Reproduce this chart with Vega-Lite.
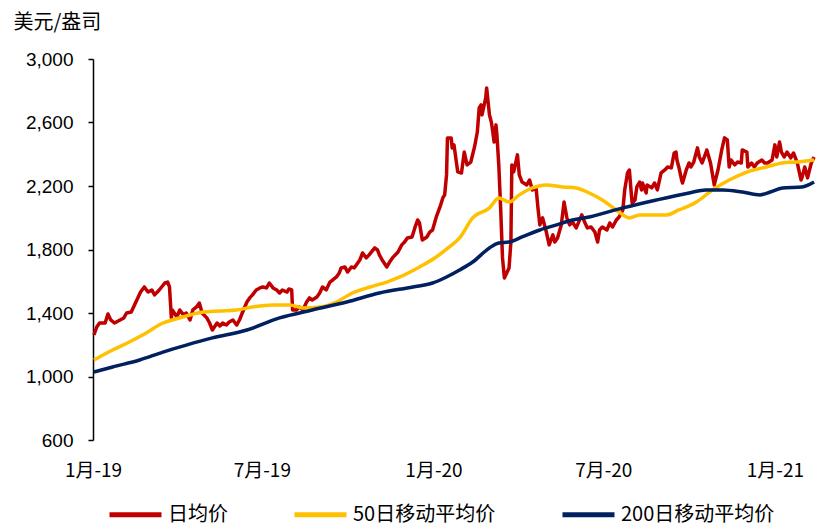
{
  "$schema": "https://vega.github.io/schema/vega-lite/v6.json",
  "width": 722,
  "height": 381,
  "autosize": {"type": "none"},
  "padding": {"left": 93, "top": 59, "right": 2, "bottom": 87},
  "background": "white",
  "config": {"view": {"stroke": null}, "font": "Liberation Sans"},
  "data": {"values": [
      {"s":"日均价","d":"2019-01-02","v":1262},{"s":"日均价","d":"2019-01-05","v":1312},{"s":"日均价","d":"2019-01-08","v":1337},{"s":"日均价","d":"2019-01-14","v":1337},{"s":"日均价","d":"2019-01-17","v":1394},{"s":"日均价","d":"2019-01-20","v":1356},{"s":"日均价","d":"2019-01-24","v":1337},{"s":"日均价","d":"2019-01-30","v":1356},{"s":"日均价","d":"2019-02-03","v":1369},{"s":"日均价","d":"2019-02-06","v":1400},{"s":"日均价","d":"2019-02-11","v":1406},{"s":"日均价","d":"2019-02-17","v":1482},{"s":"日均价","d":"2019-02-21","v":1532},{"s":"日均价","d":"2019-02-25","v":1564},{"s":"日均价","d":"2019-03-01","v":1532},{"s":"日均价","d":"2019-03-05","v":1545},{"s":"日均价","d":"2019-03-08","v":1514},{"s":"日均价","d":"2019-03-13","v":1545},{"s":"日均价","d":"2019-03-19","v":1589},{"s":"日均价","d":"2019-03-22","v":1595},{"s":"日均价","d":"2019-03-24","v":1564},{"s":"日均价","d":"2019-03-26","v":1369},{"s":"日均价","d":"2019-03-27","v":1419},{"s":"日均价","d":"2019-04-01","v":1375},{"s":"日均价","d":"2019-04-04","v":1419},{"s":"日均价","d":"2019-04-08","v":1388},{"s":"日均价","d":"2019-04-11","v":1400},{"s":"日均价","d":"2019-04-15","v":1356},{"s":"日均价","d":"2019-04-18","v":1419},{"s":"日均价","d":"2019-04-22","v":1438},{"s":"日均价","d":"2019-04-25","v":1463},{"s":"日均价","d":"2019-04-28","v":1400},{"s":"日均价","d":"2019-05-03","v":1369},{"s":"日均价","d":"2019-05-06","v":1337},{"s":"日均价","d":"2019-05-09","v":1293},{"s":"日均价","d":"2019-05-14","v":1337},{"s":"日均价","d":"2019-05-17","v":1318},{"s":"日均价","d":"2019-05-20","v":1337},{"s":"日均价","d":"2019-05-24","v":1324},{"s":"日均价","d":"2019-05-27","v":1343},{"s":"日均价","d":"2019-05-31","v":1356},{"s":"日均价","d":"2019-06-04","v":1324},{"s":"日均价","d":"2019-06-07","v":1356},{"s":"日均价","d":"2019-06-10","v":1400},{"s":"日均价","d":"2019-06-15","v":1469},{"s":"日均价","d":"2019-06-18","v":1495},{"s":"日均价","d":"2019-06-21","v":1514},{"s":"日均价","d":"2019-06-25","v":1545},{"s":"日均价","d":"2019-06-29","v":1558},{"s":"日均价","d":"2019-07-02","v":1564},{"s":"日均价","d":"2019-07-06","v":1558},{"s":"日均价","d":"2019-07-09","v":1589},{"s":"日均价","d":"2019-07-13","v":1558},{"s":"日均价","d":"2019-07-17","v":1545},{"s":"日均价","d":"2019-07-20","v":1526},{"s":"日均价","d":"2019-07-23","v":1545},{"s":"日均价","d":"2019-07-28","v":1532},{"s":"日均价","d":"2019-07-30","v":1551},{"s":"日均价","d":"2019-08-02","v":1545},{"s":"日均价","d":"2019-08-03","v":1419},{"s":"日均价","d":"2019-08-07","v":1419},{"s":"日均价","d":"2019-08-10","v":1438},{"s":"日均价","d":"2019-08-14","v":1419},{"s":"日均价","d":"2019-08-18","v":1469},{"s":"日均价","d":"2019-08-21","v":1495},{"s":"日均价","d":"2019-08-24","v":1482},{"s":"日均价","d":"2019-08-29","v":1501},{"s":"日均价","d":"2019-09-01","v":1526},{"s":"日均价","d":"2019-09-04","v":1564},{"s":"日均价","d":"2019-09-08","v":1545},{"s":"日均价","d":"2019-09-12","v":1595},{"s":"日均价","d":"2019-09-15","v":1608},{"s":"日均价","d":"2019-09-19","v":1627},{"s":"日均价","d":"2019-09-22","v":1652},{"s":"日均价","d":"2019-09-24","v":1684},{"s":"日均价","d":"2019-09-28","v":1690},{"s":"日均价","d":"2019-10-01","v":1658},{"s":"日均价","d":"2019-10-05","v":1690},{"s":"日均价","d":"2019-10-08","v":1684},{"s":"日均价","d":"2019-10-14","v":1734},{"s":"日均价","d":"2019-10-17","v":1778},{"s":"日均价","d":"2019-10-21","v":1747},{"s":"日均价","d":"2019-10-24","v":1766},{"s":"日均价","d":"2019-10-30","v":1810},{"s":"日均价","d":"2019-11-02","v":1797},{"s":"日均价","d":"2019-11-04","v":1766},{"s":"日均价","d":"2019-11-07","v":1734},{"s":"日均价","d":"2019-11-12","v":1690},{"s":"日均价","d":"2019-11-15","v":1721},{"s":"日均价","d":"2019-11-18","v":1747},{"s":"日均价","d":"2019-11-24","v":1784},{"s":"日均价","d":"2019-11-28","v":1829},{"s":"日均价","d":"2019-12-01","v":1847},{"s":"日均价","d":"2019-12-04","v":1873},{"s":"日均价","d":"2019-12-09","v":1879},{"s":"日均价","d":"2019-12-12","v":1936},{"s":"日均价","d":"2019-12-15","v":1986},{"s":"日均价","d":"2019-12-17","v":1967},{"s":"日均价","d":"2019-12-20","v":1860},{"s":"日均价","d":"2019-12-25","v":1879},{"s":"日均价","d":"2019-12-28","v":1910},{"s":"日均价","d":"2019-12-31","v":1923},{"s":"日均价","d":"2020-01-04","v":2005},{"s":"日均价","d":"2020-01-08","v":2068},{"s":"日均价","d":"2020-01-11","v":2125},{"s":"日均价","d":"2020-01-13","v":2144},{"s":"日均价","d":"2020-01-15","v":2270},{"s":"日均价","d":"2020-01-16","v":2503},{"s":"日均价","d":"2020-01-20","v":2503},{"s":"日均价","d":"2020-01-21","v":2440},{"s":"日均价","d":"2020-01-23","v":2459},{"s":"日均价","d":"2020-01-27","v":2289},{"s":"日均价","d":"2020-01-31","v":2282},{"s":"日均价","d":"2020-02-03","v":2414},{"s":"日均价","d":"2020-02-06","v":2333},{"s":"日均价","d":"2020-02-10","v":2351},{"s":"日均价","d":"2020-02-14","v":2446},{"s":"日均价","d":"2020-02-17","v":2540},{"s":"日均价","d":"2020-02-19","v":2692},{"s":"日均价","d":"2020-02-21","v":2711},{"s":"日均价","d":"2020-02-22","v":2648},{"s":"日均价","d":"2020-02-26","v":2755},{"s":"日均价","d":"2020-02-27","v":2818},{"s":"日均价","d":"2020-03-01","v":2648},{"s":"日均价","d":"2020-03-03","v":2603},{"s":"日均价","d":"2020-03-04","v":2566},{"s":"日均价","d":"2020-03-06","v":2477},{"s":"日均价","d":"2020-03-08","v":2585},{"s":"日均价","d":"2020-03-09","v":2522},{"s":"日均价","d":"2020-03-11","v":2333},{"s":"日均价","d":"2020-03-13","v":2062},{"s":"日均价","d":"2020-03-15","v":1747},{"s":"日均价","d":"2020-03-17","v":1621},{"s":"日均价","d":"2020-03-20","v":1658},{"s":"日均价","d":"2020-03-22","v":1684},{"s":"日均价","d":"2020-03-24","v":1847},{"s":"日均价","d":"2020-03-25","v":2333},{"s":"日均价","d":"2020-03-27","v":2289},{"s":"日均价","d":"2020-03-31","v":2396},{"s":"日均价","d":"2020-04-02","v":2270},{"s":"日均价","d":"2020-04-05","v":2225},{"s":"日均价","d":"2020-04-10","v":2207},{"s":"日均价","d":"2020-04-13","v":2238},{"s":"日均价","d":"2020-04-16","v":2175},{"s":"日均价","d":"2020-04-20","v":2188},{"s":"日均价","d":"2020-04-22","v":2062},{"s":"日均价","d":"2020-04-24","v":1955},{"s":"日均价","d":"2020-04-27","v":1999},{"s":"日均价","d":"2020-05-01","v":1910},{"s":"日均价","d":"2020-05-04","v":1829},{"s":"日均价","d":"2020-05-08","v":1892},{"s":"日均价","d":"2020-05-10","v":1847},{"s":"日均价","d":"2020-05-13","v":1873},{"s":"日均价","d":"2020-05-17","v":1955},{"s":"日均价","d":"2020-05-20","v":2099},{"s":"日均价","d":"2020-05-23","v":1999},{"s":"日均价","d":"2020-05-26","v":1955},{"s":"日均价","d":"2020-05-29","v":1973},{"s":"日均价","d":"2020-06-02","v":1936},{"s":"日均价","d":"2020-06-08","v":2018},{"s":"日均价","d":"2020-06-11","v":1973},{"s":"日均价","d":"2020-06-14","v":1936},{"s":"日均价","d":"2020-06-18","v":1942},{"s":"日均价","d":"2020-06-22","v":1910},{"s":"日均价","d":"2020-06-25","v":1847},{"s":"日均价","d":"2020-06-27","v":1923},{"s":"日均价","d":"2020-06-30","v":1942},{"s":"日均价","d":"2020-07-05","v":1923},{"s":"日均价","d":"2020-07-08","v":1967},{"s":"日均价","d":"2020-07-11","v":1942},{"s":"日均价","d":"2020-07-15","v":1986},{"s":"日均价","d":"2020-07-18","v":2005},{"s":"日均价","d":"2020-07-22","v":2049},{"s":"日均价","d":"2020-07-24","v":2175},{"s":"日均价","d":"2020-07-27","v":2282},{"s":"日均价","d":"2020-07-29","v":2301},{"s":"日均价","d":"2020-07-31","v":2156},{"s":"日均价","d":"2020-08-01","v":2093},{"s":"日均价","d":"2020-08-04","v":2112},{"s":"日均价","d":"2020-08-06","v":2194},{"s":"日均价","d":"2020-08-09","v":2225},{"s":"日均价","d":"2020-08-11","v":2175},{"s":"日均价","d":"2020-08-12","v":2219},{"s":"日均价","d":"2020-08-16","v":2156},{"s":"日均价","d":"2020-08-17","v":2207},{"s":"日均价","d":"2020-08-22","v":2188},{"s":"日均价","d":"2020-08-25","v":2219},{"s":"日均价","d":"2020-08-28","v":2175},{"s":"日均价","d":"2020-09-01","v":2282},{"s":"日均价","d":"2020-09-05","v":2301},{"s":"日均价","d":"2020-09-08","v":2320},{"s":"日均价","d":"2020-09-12","v":2314},{"s":"日均价","d":"2020-09-15","v":2408},{"s":"日均价","d":"2020-09-17","v":2414},{"s":"日均价","d":"2020-09-18","v":2364},{"s":"日均价","d":"2020-09-20","v":2320},{"s":"日均价","d":"2020-09-23","v":2238},{"s":"日均价","d":"2020-09-24","v":2219},{"s":"日均价","d":"2020-09-28","v":2301},{"s":"日均价","d":"2020-10-01","v":2345},{"s":"日均价","d":"2020-10-03","v":2320},{"s":"日均价","d":"2020-10-06","v":2351},{"s":"日均价","d":"2020-10-10","v":2440},{"s":"日均价","d":"2020-10-12","v":2383},{"s":"日均价","d":"2020-10-15","v":2345},{"s":"日均价","d":"2020-10-19","v":2408},{"s":"日均价","d":"2020-10-20","v":2427},{"s":"日均价","d":"2020-10-24","v":2345},{"s":"日均价","d":"2020-10-28","v":2207},{"s":"日均价","d":"2020-11-01","v":2301},{"s":"日均价","d":"2020-11-05","v":2427},{"s":"日均价","d":"2020-11-08","v":2503},{"s":"日均价","d":"2020-11-11","v":2490},{"s":"日均价","d":"2020-11-13","v":2320},{"s":"日均价","d":"2020-11-15","v":2364},{"s":"日均价","d":"2020-11-19","v":2333},{"s":"日均价","d":"2020-11-22","v":2351},{"s":"日均价","d":"2020-11-26","v":2345},{"s":"日均价","d":"2020-11-27","v":2427},{"s":"日均价","d":"2020-12-02","v":2414},{"s":"日均价","d":"2020-12-03","v":2320},{"s":"日均价","d":"2020-12-07","v":2345},{"s":"日均价","d":"2020-12-10","v":2320},{"s":"日均价","d":"2020-12-13","v":2345},{"s":"日均价","d":"2020-12-18","v":2364},{"s":"日均价","d":"2020-12-21","v":2345},{"s":"日均价","d":"2020-12-24","v":2345},{"s":"日均价","d":"2020-12-29","v":2364},{"s":"日均价","d":"2021-01-01","v":2459},{"s":"日均价","d":"2021-01-03","v":2383},{"s":"日均价","d":"2021-01-06","v":2477},{"s":"日均价","d":"2021-01-08","v":2414},{"s":"日均价","d":"2021-01-11","v":2383},{"s":"日均价","d":"2021-01-14","v":2414},{"s":"日均价","d":"2021-01-18","v":2377},{"s":"日均价","d":"2021-01-21","v":2408},{"s":"日均价","d":"2021-01-25","v":2345},{"s":"日均价","d":"2021-01-29","v":2238},{"s":"日均价","d":"2021-01-30","v":2251},{"s":"日均价","d":"2021-02-02","v":2320},{"s":"日均价","d":"2021-02-05","v":2251},{"s":"日均价","d":"2021-02-09","v":2345},{"s":"日均价","d":"2021-02-12","v":2383},
      {"s":"50日移动平均价","d":"2019-01-02","v":1104},{"s":"50日移动平均价","d":"2019-01-22","v":1167},{"s":"50日移动平均价","d":"2019-02-09","v":1217},{"s":"50日移动平均价","d":"2019-02-27","v":1274},{"s":"50日移动平均价","d":"2019-03-17","v":1337},{"s":"50日移动平均价","d":"2019-03-27","v":1356},{"s":"50日移动平均价","d":"2019-04-11","v":1381},{"s":"50日移动平均价","d":"2019-04-29","v":1406},{"s":"50日移动平均价","d":"2019-05-17","v":1413},{"s":"50日移动平均价","d":"2019-06-04","v":1419},{"s":"50日移动平均价","d":"2019-06-21","v":1438},{"s":"50日移动平均价","d":"2019-07-13","v":1451},{"s":"50日移动平均价","d":"2019-07-31","v":1451},{"s":"50日移动平均价","d":"2019-08-14","v":1432},{"s":"50日移动平均价","d":"2019-09-01","v":1438},{"s":"50日移动平均价","d":"2019-09-19","v":1469},{"s":"50日移动平均价","d":"2019-10-06","v":1526},{"s":"50日移动平均价","d":"2019-10-25","v":1564},{"s":"50日移动平均价","d":"2019-11-12","v":1595},{"s":"50日移动平均价","d":"2019-11-26","v":1627},{"s":"50日移动平均价","d":"2019-12-17","v":1690},{"s":"50日移动平均价","d":"2020-01-04","v":1753},{"s":"50日移动平均价","d":"2020-01-18","v":1816},{"s":"50日移动平均价","d":"2020-01-29","v":1873},{"s":"50日移动平均价","d":"2020-02-12","v":1999},{"s":"50日移动平均价","d":"2020-03-01","v":2062},{"s":"50日移动平均价","d":"2020-03-11","v":2125},{"s":"50日移动平均价","d":"2020-03-22","v":2099},{"s":"50日移动平均价","d":"2020-04-02","v":2144},{"s":"50日移动平均价","d":"2020-04-16","v":2188},{"s":"50日移动平均价","d":"2020-05-01","v":2207},{"s":"50日移动平均价","d":"2020-05-18","v":2194},{"s":"50日移动平均价","d":"2020-06-02","v":2188},{"s":"50日移动平均价","d":"2020-06-16","v":2156},{"s":"50日移动平均价","d":"2020-06-30","v":2112},{"s":"50日移动平均价","d":"2020-07-15","v":2049},{"s":"50日移动平均价","d":"2020-07-29","v":1999},{"s":"50日移动平均价","d":"2020-08-09","v":2018},{"s":"50日移动平均价","d":"2020-09-07","v":2018},{"s":"50日移动平均价","d":"2020-09-20","v":2049},{"s":"50日移动平均价","d":"2020-10-09","v":2099},{"s":"50日移动平均价","d":"2020-10-26","v":2175},{"s":"50日移动平均价","d":"2020-11-13","v":2238},{"s":"50日移动平均价","d":"2020-12-02","v":2288},{"s":"50日移动平均价","d":"2020-12-23","v":2320},{"s":"50日移动平均价","d":"2021-01-09","v":2345},{"s":"50日移动平均价","d":"2021-01-24","v":2351},{"s":"50日移动平均价","d":"2021-02-12","v":2364},
      {"s":"200日移动平均价","d":"2019-01-02","v":1028},{"s":"200日移动平均价","d":"2019-01-22","v":1060},{"s":"200日移动平均价","d":"2019-02-20","v":1104},{"s":"200日移动平均价","d":"2019-03-17","v":1154},{"s":"200日移动平均价","d":"2019-04-11","v":1198},{"s":"200日移动平均价","d":"2019-05-09","v":1243},{"s":"200日移动平均价","d":"2019-06-15","v":1293},{"s":"200日移动平均价","d":"2019-07-20","v":1369},{"s":"200日移动平均价","d":"2019-08-24","v":1419},{"s":"200日移动平均价","d":"2019-09-30","v":1469},{"s":"200日移动平均价","d":"2019-11-04","v":1526},{"s":"200日移动平均价","d":"2019-12-10","v":1564},{"s":"200日移动平均价","d":"2019-12-31","v":1589},{"s":"200日移动平均价","d":"2020-01-15","v":1627},{"s":"200日移动平均价","d":"2020-01-29","v":1671},{"s":"200日移动平均价","d":"2020-02-12","v":1721},{"s":"200日移动平均价","d":"2020-03-01","v":1810},{"s":"200日移动平均价","d":"2020-03-11","v":1841},{"s":"200日移动平均价","d":"2020-03-22","v":1847},{"s":"200日移动平均价","d":"2020-04-05","v":1879},{"s":"200日移动平均价","d":"2020-04-24","v":1923},{"s":"200日移动平均价","d":"2020-05-12","v":1955},{"s":"200日移动平均价","d":"2020-05-29","v":1986},{"s":"200日移动平均价","d":"2020-06-16","v":2005},{"s":"200日移动平均价","d":"2020-07-22","v":2062},{"s":"200日移动平均价","d":"2020-08-27","v":2112},{"s":"200日移动平均价","d":"2020-10-01","v":2156},{"s":"200日移动平均价","d":"2020-10-19","v":2175},{"s":"200日移动平均价","d":"2020-11-06","v":2175},{"s":"200日移动平均价","d":"2020-11-27","v":2162},{"s":"200日移动平均价","d":"2020-12-16","v":2144},{"s":"200日移动平均价","d":"2020-12-27","v":2162},{"s":"200日移动平均价","d":"2021-01-09","v":2188},{"s":"200日移动平均价","d":"2021-01-30","v":2194},{"s":"200日移动平均价","d":"2021-02-12","v":2225}
  ]},
  "encoding": {
    "x": {
      "field": "d", "type": "temporal",
      "scale": {"type": "utc", "domain": [{"year": 2019, "month": 1, "date": 1, "utc": true}, {"year": 2021, "month": 2, "date": 13, "utc": true}]},
      "axis": {
        "title": null, "domain": false, "ticks": false, "grid": false,
        "values": [{"year": 2019, "month": 1, "date": 1, "utc": true}, {"year": 2019, "month": 7, "date": 1, "utc": true}, {"year": 2020, "month": 1, "date": 1, "utc": true}, {"year": 2020, "month": 7, "date": 1, "utc": true}, {"year": 2021, "month": 1, "date": 1, "utc": true}],
        "labelExpr": "utcFormat(datum.value, '%-m') + '月-' + utcFormat(datum.value, '%y')",
        "labelFont": "Noto Sans CJK SC", "labelFontSize": 19, "labelColor": "#000000",
        "labelPadding": 21, "labelFlush": false, "labelOverlap": false
      }
    },
    "y": {
      "field": "v", "type": "quantitative",
      "scale": {"domain": [600, 3000], "nice": false, "zero": false},
      "axis": {
        "values": [600, 1000, 1400, 1800, 2200, 2600, 3000], "format": ",.0f", "grid": false,
        "domainColor": "#000000", "domainWidth": 1.5, "tickColor": "#000000", "tickSize": 5, "tickWidth": 1.5,
        "labelFont": "Liberation Sans", "labelFontSize": 19, "labelColor": "#000000", "labelPadding": 15,
        "title": "美元/盎司", "titleAngle": 0, "titleX": -80, "titleY": -37, "titleAlign": "left", "titleBaseline": "middle",
        "titleFont": "Noto Sans CJK SC", "titleFontSize": 20, "titleFontWeight": "normal", "titleColor": "#000000"
      }
    },
    "color": {
      "field": "s", "type": "nominal",
      "scale": {"domain": ["日均价", "50日移动平均价", "200日移动平均价"], "range": ["#C00000", "#FFC000", "#002060"]},
      "legend": {
        "orient": "none", "legendX": 14, "legendY": 427, "direction": "horizontal", "title": null,
        "symbolType": "stroke", "symbolSize": 2704, "symbolStrokeWidth": 5,
        "labelFont": "Noto Sans CJK SC", "labelFontSize": 20, "labelColor": "#000000", "labelOffset": 4,
        "columnPadding": 56, "padding": 0
      }
    }
  },
  "layer": [
    {"transform": [{"filter": "datum.s === '日均价'"}], "mark": {"type": "line", "strokeWidth": 3.5, "strokeJoin": "round"}},
    {"transform": [{"filter": "datum.s === '50日移动平均价'"}], "mark": {"type": "line", "strokeWidth": 3.5, "strokeJoin": "round", "interpolate": "monotone"}},
    {"transform": [{"filter": "datum.s === '200日移动平均价'"}], "mark": {"type": "line", "strokeWidth": 3.5, "strokeJoin": "round", "interpolate": "monotone"}}
  ]
}
